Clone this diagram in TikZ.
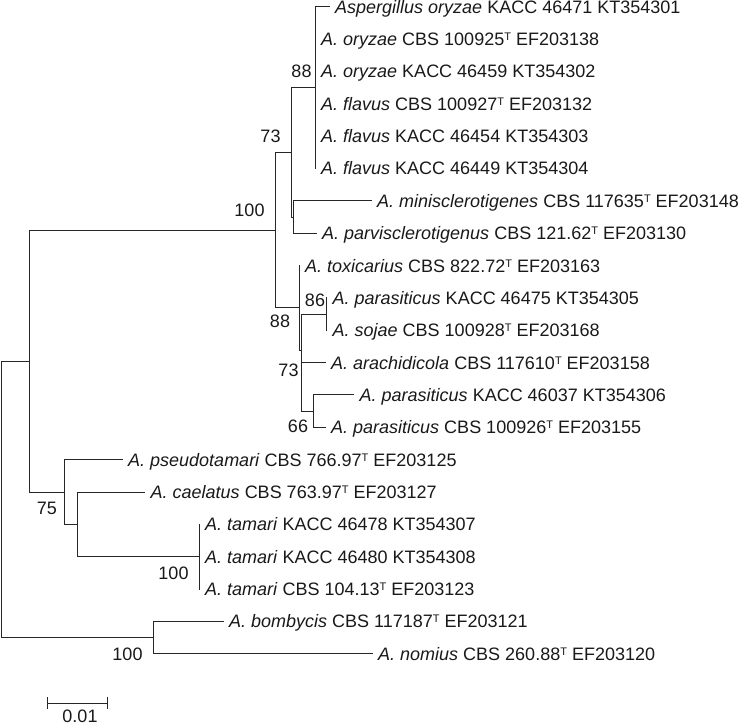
\documentclass[tikz,border=0pt]{standalone}
\usepackage{fontspec}
\setmainfont{Liberation Sans}
\newcommand{\Tsup}{\raisebox{5pt}{\fontsize{11}{11}\selectfont T}}
\begin{document}
\begin{tikzpicture}[x=1pt,y=-1pt,
  br/.style={line width=1pt, draw=black!85, line cap=rect},
  leaf/.style={anchor=base west, inner sep=0pt, xshift=6pt, yshift=-6.5pt,
    font=\fontsize{18}{21}\selectfont, text=black!90},
  boot/.style={inner sep=0pt, font=\fontsize{18}{21}\selectfont, text=black!90}]
\useasboundingbox (0,0) rectangle (744,726);
% internal nodes
\coordinate (root) at (1.2,499.3);
\coordinate (nA) at (29,361);
\coordinate (n100) at (275,230);
\coordinate (n73t) at (291.7,152.2);
\coordinate (n88t) at (315,87.4);
\coordinate (nMP) at (293,217);
\coordinate (n88l) at (299,307.8);
\coordinate (n73l) at (301.5,350);
\coordinate (n86) at (326.5,314);
\coordinate (n66) at (313.3,411);
\coordinate (n75) at (64,492);
\coordinate (nB) at (77.3,524.3);
\coordinate (nT) at (199,556.7);
\coordinate (nBN) at (153,637.6);
% leaf branch ends
\coordinate (e1) at (329,6.7);
\coordinate (e2) at (315,39.0);
\coordinate (e3) at (315,71.4);
\coordinate (e4) at (315,103.8);
\coordinate (e5) at (315,136.1);
\coordinate (e6) at (315,168.1);
\coordinate (e7) at (371,200.8);
\coordinate (e8) at (316,233.2);
\coordinate (e9) at (299,265.5);
\coordinate (e10) at (326.5,297.8);
\coordinate (e11) at (326.5,330.2);
\coordinate (e12) at (325,362.5);
\coordinate (e13) at (353.5,394.8);
\coordinate (e14) at (325,427.2);
\coordinate (e15) at (122,459.6);
\coordinate (e16) at (144.5,492);
\coordinate (e17) at (199,524.3);
\coordinate (e18) at (199,556.7);
\coordinate (e19) at (199,589);
\coordinate (e20) at (223,621.4);
\coordinate (e21) at (372,653.7);
% leaves
\node[leaf] (l1) at (e1) {\textit{Aspergillus oryzae} KACC 46471 KT354301};
\node[leaf] (l2) at (e2) {\textit{A. oryzae} CBS 100925\Tsup{} EF203138};
\node[leaf] (l3) at (e3) {\textit{A. oryzae} KACC 46459 KT354302};
\node[leaf] (l4) at (e4) {\textit{A. flavus} CBS 100927\Tsup{} EF203132};
\node[leaf] (l5) at (e5) {\textit{A. flavus} KACC 46454 KT354303};
\node[leaf] (l6) at (e6) {\textit{A. flavus} KACC 46449 KT354304};
\node[leaf] (l7) at (e7) {\textit{A. minisclerotigenes} CBS 117635\Tsup{} EF203148};
\node[leaf] (l8) at (e8) {\textit{A. parvisclerotigenus} CBS 121.62\Tsup{} EF203130};
\node[leaf] (l9) at (e9) {\textit{A. toxicarius} CBS 822.72\Tsup{} EF203163};
\node[leaf] (l10) at (e10) {\textit{A. parasiticus} KACC 46475 KT354305};
\node[leaf] (l11) at (e11) {\textit{A. sojae} CBS 100928\Tsup{} EF203168};
\node[leaf] (l12) at (e12) {\textit{A. arachidicola} CBS 117610\Tsup{} EF203158};
\node[leaf] (l13) at (e13) {\textit{A. parasiticus} KACC 46037 KT354306};
\node[leaf] (l14) at (e14) {\textit{A. parasiticus} CBS 100926\Tsup{} EF203155};
\node[leaf] (l15) at (e15) {\textit{A. pseudotamari} CBS 766.97\Tsup{} EF203125};
\node[leaf] (l16) at (e16) {\textit{A. caelatus} CBS 763.97\Tsup{} EF203127};
\node[leaf] (l17) at (e17) {\textit{A. tamari} KACC 46478 KT354307};
\node[leaf] (l18) at (e18) {\textit{A. tamari} KACC 46480 KT354308};
\node[leaf] (l19) at (e19) {\textit{A. tamari} CBS 104.13\Tsup{} EF203123};
\node[leaf] (l20) at (e20) {\textit{A. bombycis} CBS 117187\Tsup{} EF203121};
\node[leaf] (l21) at (e21) {\textit{A. nomius} CBS 260.88\Tsup{} EF203120};
% branches
\draw[br] (root |- nA) -- (root |- nBN);
\draw[br] (root |- nA) -- (nA);
\draw[br] (root |- nBN) -- (nBN);
\draw[br] (nA |- n100) -- (nA |- n75);
\draw[br] (nA |- n100) -- (n100);
\draw[br] (nA |- n75) -- (n75);
\draw[br] (n100 |- n73t) -- (n100 |- n88l);
\draw[br] (n100 |- n73t) -- (n73t);
\draw[br] (n100 |- n88l) -- (n88l);
\draw[br] (n73t |- n88t) -- (n73t |- nMP);
\draw[br] (n73t |- n88t) -- (n88t);
\draw[br] (n73t |- nMP) -- (nMP);
\draw[br] (n88t |- e1) -- (n88t |- e6);
\draw[br] (n88t |- e1) -- (e1);
\draw[br] (nMP |- e7) -- (nMP |- e8);
\draw[br] (nMP |- e7) -- (e7);
\draw[br] (nMP |- e8) -- (e8);
\draw[br] (n88l |- e9) -- (n88l |- n73l);
\draw[br] (n88l |- n73l) -- (n73l);
\draw[br] (n73l |- n86) -- (n73l |- n66);
\draw[br] (n73l |- n86) -- (n86);
\draw[br] (n73l |- e12) -- (e12);
\draw[br] (n73l |- n66) -- (n66);
\draw[br] (n86 |- e10) -- (n86 |- e11);
\draw[br] (n66 |- e13) -- (n66 |- e14);
\draw[br] (n66 |- e13) -- (e13);
\draw[br] (n66 |- e14) -- (e14);
\draw[br] (n75 |- e15) -- (n75 |- nB);
\draw[br] (n75 |- e15) -- (e15);
\draw[br] (n75 |- nB) -- (nB);
\draw[br] (nB |- e16) -- (nB |- nT);
\draw[br] (nB |- e16) -- (e16);
\draw[br] (nB |- nT) -- (nT);
\draw[br] (nT |- e17) -- (nT |- e19);
\draw[br] (nBN |- e20) -- (nBN |- e21);
\draw[br] (nBN |- e20) -- (e20);
\draw[br] (nBN |- e21) -- (e21);
% bootstrap labels
\node[boot] (b1) at (301.5,71.7) {88};
\node[boot] (b2) at (270.5,136.7) {73};
\node[boot] (b3) at (249.5,210) {100};
\node[boot] (b4) at (280,321.7) {88};
\node[boot] (b5) at (315,300) {86};
\node[boot] (b6) at (288.5,370.7) {73};
\node[boot] (b7) at (298,426.7) {66};
\node[boot] (b8) at (47,508) {75};
\node[boot] (b9) at (173.5,573) {100};
\node[boot] (b10) at (127.5,654) {100};
% scale bar
\coordinate (s1) at (47.7,703);
\coordinate (s2) at (107.3,703);
\draw[br, line cap=butt] (s1) -- (s2);
\draw[br, line cap=butt] ([yshift=5.7pt]s1) -- ([yshift=-5.7pt]s1);
\draw[br, line cap=butt] ([yshift=5.7pt]s2) -- ([yshift=-5.7pt]s2);
\node[boot] (sl) at (80,716.5) {0.01};
\end{tikzpicture}
\end{document}
